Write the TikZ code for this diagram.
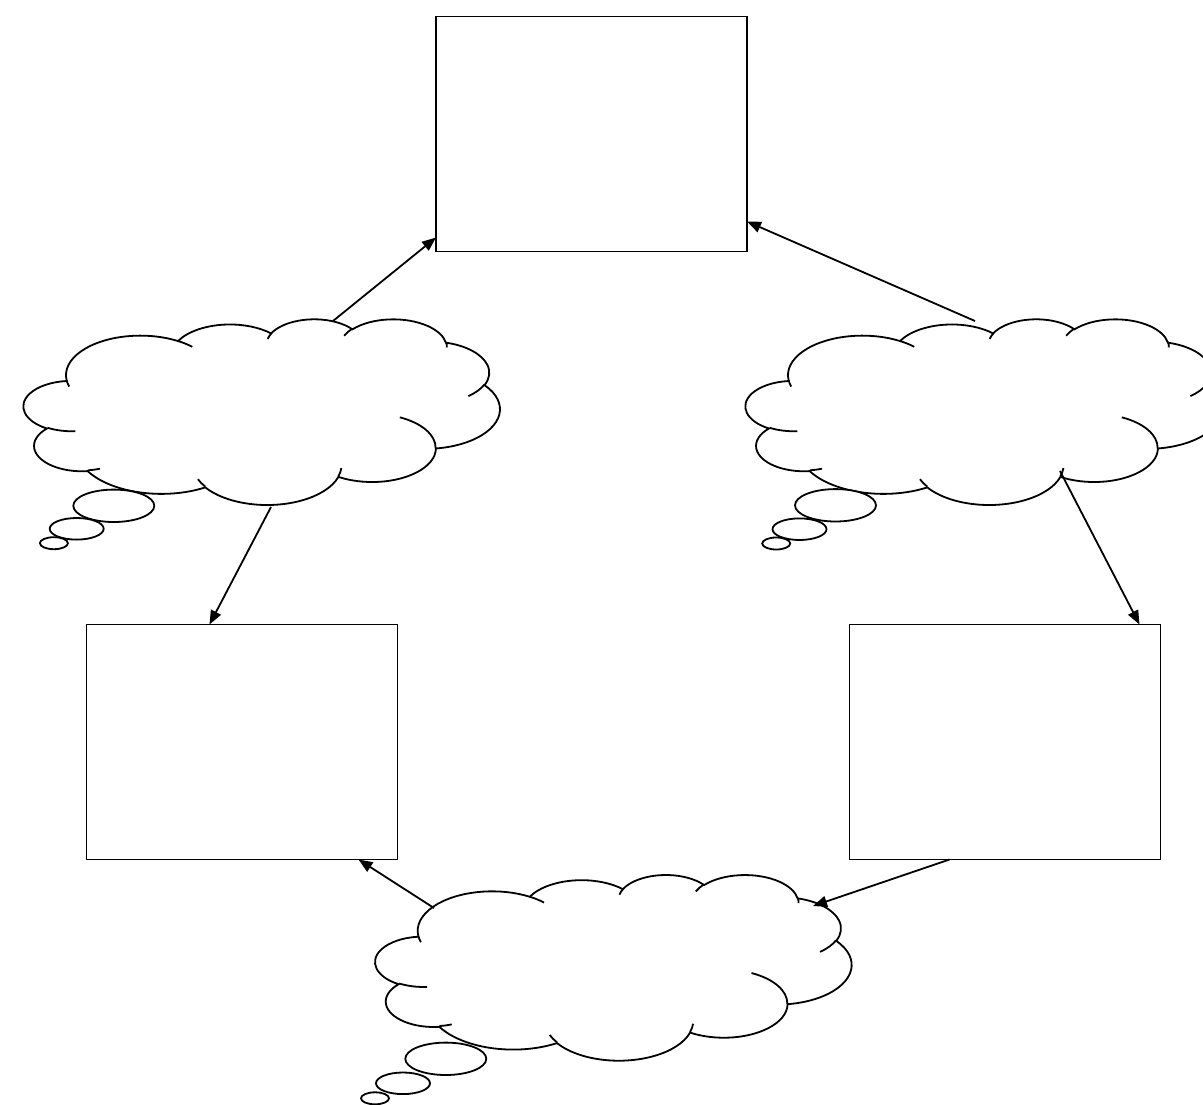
\documentclass[tikz,border=0pt]{standalone}
\usetikzlibrary{arrows.meta}

\tikzset{
  outline/.style={line width=1.8pt, draw=black},
  box/.style={outline, rectangle, fill=white, inner sep=0pt, outer sep=0pt,
              minimum width=311pt, minimum height=235pt},
  link/.style={line width=1.8pt, -{Triangle[length=14pt,width=11pt]}},
  bubble/.style={outline, fill=white},
  cloudframe/.style={x=1.102pt, y=-0.4297pt},
}

% Cloud outline in a 432 x 432 frame; each lobe is an elliptical arc whose
% angles are given as visual angles and turned into parametric ones by pa().
\newcommand\cloudbody{%
  \filldraw[outline, fill=white] (39.00,143.70)
    arc[x radius=67.53, y radius=91.90, start angle={pa(-190.48748,67.53,91.90)}, end angle={pa(-190.48748+123.78053,67.53,91.90)}]
    arc[x radius=53.33, y radius=72.67, start angle={pa(-144.10238,53.33,72.67)}, end angle={pa(-144.10238+89.94523,53.33,72.67)}]
    arc[x radius=43.65, y radius=59.45, start angle={pa(-145.80792,43.65,59.45)}, end angle={pa(-145.80792+99.72302,43.65,59.45)}]
    arc[x radius=48.57, y radius=65.95, start angle={pa(-130.98607,48.57,65.95)}, end angle={pa(-130.98607+117.24173,48.57,65.95)}]
    arc[x radius=53.33, y radius=72.73, start angle={pa(-78.70888,53.33,72.73)}, end angle={pa(-78.70888+109.02692,53.33,72.73)}]
    arc[x radius=67.75, y radius=92.20, start angle={pa(-46.26725,67.75,92.20)}, end angle={pa(-46.26725+130.269,67.75,92.20)}]
    arc[x radius=57.85, y radius=78.67, start angle={pa(0.62502,57.85,78.67)}, end angle={pa(0.62502+114.03333,57.85,78.67)}]
    arc[x radius=67.52, y radius=92.15, start angle={pa(22.4516,67.52,92.15)}, end angle={pa(22.4516+115.17255,67.52,92.15)}]
    arc[x radius=77.20, y radius=105.43, start angle={pa(66.24263,77.20,105.43)}, end angle={pa(66.24263+75.71102,77.20,105.43)}]
    arc[x radius=43.60, y radius=59.18, start angle={pa(-274.94208,43.60,59.18)}, end angle={pa(-274.94208+146.73557,43.60,59.18)}]
    arc[x radius=43.45, y radius=59.45, start angle={pa(-246.8285,43.45,59.45)}, end angle={pa(-246.8285+152.51885,43.45,59.45)}]
    -- cycle;
  \draw[outline]
    (46.93,261.77) arc[x radius=43.45, y radius=59.45, start angle={pa(86.742,43.45,59.45)}, end angle={pa(86.742+26.4295,43.45,59.45)}]
    (69.28,348.99) arc[x radius=43.60, y radius=59.18, start angle={pa(73.61047,43.60,59.18)}, end angle={pa(73.61047+11.44747,43.60,59.18)}]
    (164.78,390.90) arc[x radius=67.52, y radius=92.15, start angle={pa(137.62415,67.52,92.15)}, end angle={pa(137.62415+14.0811,67.52,92.15)}]
    (288.27,347.51) arc[x radius=67.52, y radius=92.15, start angle={pa(6.45327,67.52,92.15)}, end angle={pa(6.45327+15.99835,67.52,92.15)}]
    (341.29,229.54) arc[x radius=57.85, y radius=78.67, start angle={pa(-70.29235,57.85,78.67)}, end angle={pa(-70.29235+70.91737,57.85,78.67)}]
    (417.98,153.54) arc[x radius=53.33, y radius=72.73, start angle={pa(30.31803,53.33,72.73)}, end angle={pa(30.31803+27.7515,53.33,72.73)}]
    (383.24,54.26) arc[x radius=48.57, y radius=65.95, start angle={pa(-13.74433,48.57,65.95)}, end angle={pa(-13.74433+14.85242,48.57,65.95)}]
    (290.78,39.52) arc[x radius=48.57, y radius=65.95, start angle={pa(-149.18145,48.57,65.95)}, end angle={pa(-149.18145+18.19537,48.57,65.95)}]
    (221.41,47.20) arc[x radius=43.65, y radius=59.45, start angle={pa(-163.49427,43.65,59.45)}, end angle={pa(-163.49427+17.68635,43.65,59.45)}]
    (140.00,51.92) arc[x radius=67.53, y radius=91.90, start angle={pa(-66.70695,67.53,91.90)}, end angle={pa(-66.70695+12.31935,67.53,91.90)}]
    (41.27,157.89) arc[x radius=67.53, y radius=91.90, start angle={pa(157.65435,67.53,91.90)}, end angle={pa(157.65435+11.85817,67.53,91.90)}];
}

\begin{document}
\begin{tikzpicture}[x=1pt, y=-1pt,
  declare function={pa(\a,\w,\h)=atan2(\w*sin(\a),\h*cos(\a))+360*round((\a-atan2(\w*sin(\a),\h*cos(\a)))/360);}]
\useasboundingbox (0,0) rectangle (1203,1105);
\clip (0,0) rectangle (1203,1105);

% clouds with their trails of bubbles
\begin{scope}[xshift=23.7pt, yshift=-318.7pt, cloudframe]
  \cloudbody
\end{scope}
\draw[bubble] (113.8,505.8) ellipse [x radius=40.5, y radius=16.2];
\draw[bubble] (76.7,528.8) ellipse [x radius=27, y radius=10.8];
\draw[bubble] (53.9,543.2) ellipse [x radius=14, y radius=6];

\begin{scope}[xshift=745.7pt, yshift=-318.7pt, cloudframe]
  \cloudbody
\end{scope}
\draw[bubble] (835.5,505.3) ellipse [x radius=40.5, y radius=16.2];
\draw[bubble] (799.5,529.2) ellipse [x radius=27, y radius=10.8];
\draw[bubble] (776.2,543.5) ellipse [x radius=14, y radius=6];

\begin{scope}[xshift=375.4pt, yshift=-874.4pt, cloudframe]
  \cloudbody
\end{scope}
\draw[bubble] (445.8,1058.8) ellipse [x radius=40.5, y radius=16.2];
\draw[bubble] (403,1083.3) ellipse [x radius=27, y radius=10.8];
\draw[bubble] (375,1098.3) ellipse [x radius=14, y radius=6];

% boxes
\node[box] (topbox)   at (591.5,134) {};
\node[box] (leftbox)  at (242,742) {};
\node[box] (rightbox) at (1005,742) {};

% connector ends on the clouds
\coordinate (lc-up)    at (333,321);
\coordinate (lc-down)  at (271,507);
\coordinate (rc-up)    at (975,321);
\coordinate (rc-down)  at (1060,471);
\coordinate (bc-left)  at (434,908);
\coordinate (bc-right) at (813,906);

% connectors
\draw[link] (lc-up) -- ([yshift=14pt]topbox.south west);
\draw[link] (rc-up) -- ([yshift=30pt]topbox.south east);
\draw[link] (lc-down) -- ([xshift=123pt]leftbox.north west);
\draw[link] (rc-down) -- ([xshift=-21pt]rightbox.north east);
\draw[link] (bc-left) -- ([xshift=-39pt]leftbox.south east);
\draw[link] ([xshift=100pt]rightbox.south west) -- (bc-right);
\end{tikzpicture}
\end{document}
